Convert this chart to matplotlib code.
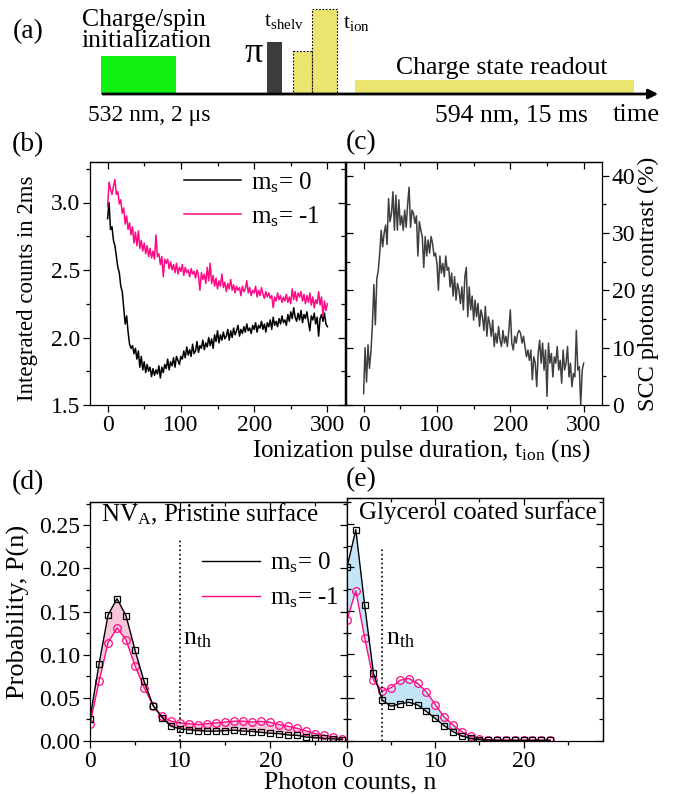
import matplotlib
matplotlib.use("Agg")
import matplotlib.pyplot as plt
import numpy as np
from matplotlib.lines import Line2D
from matplotlib.patches import Rectangle
from matplotlib.ticker import MultipleLocator, FormatStrFormatter

plt.rcParams['font.family'] = ['Liberation Serif', 'DejaVu Serif']
plt.rcParams['mathtext.fontset'] = 'custom'
plt.rcParams['mathtext.rm'] = 'Liberation Serif'
plt.rcParams['mathtext.it'] = 'Liberation Serif:italic'
plt.rcParams['axes.linewidth'] = 0.9

# ---- data ----
t_ion = np.arange(0, 301, 2)  # ionization pulse duration (ns)

counts_ms0 = [
    2.88, 3.00, 2.80, 2.82, 2.72, 2.68, 2.60, 2.52, 2.48, 2.38,
    2.34, 2.22, 2.10, 2.16, 2.04, 1.95, 1.92, 1.94, 1.88, 1.92,
    1.84, 1.90, 1.78, 1.86, 1.76, 1.82, 1.74, 1.80, 1.75, 1.78,
    1.71, 1.77, 1.72, 1.76, 1.73, 1.79, 1.70, 1.78, 1.74, 1.80,
    1.77, 1.84, 1.76, 1.82, 1.79, 1.85, 1.78, 1.86, 1.83, 1.80,
    1.86, 1.84, 1.90, 1.85, 1.93, 1.87, 1.91, 1.86, 1.95, 1.88,
    1.90, 1.97, 1.89, 1.94, 1.92, 1.98, 1.91, 1.96, 1.93, 2.00,
    1.94, 1.99, 1.92, 2.02, 1.97, 2.05, 1.96, 2.02, 1.98, 2.04,
    1.99, 2.01, 2.06, 1.98, 2.05, 2.00, 2.07, 2.02, 2.05, 2.09,
    2.01, 2.06, 2.03, 2.08, 2.04, 2.10, 2.05, 2.07, 2.03, 2.09,
    2.06, 2.11, 2.04, 2.09, 2.07, 2.12, 2.06, 2.10, 2.04, 2.11,
    2.08, 2.13, 2.06, 2.15, 2.09, 2.12, 2.08, 2.14, 2.10, 2.16,
    2.11, 2.13, 2.09, 2.17, 2.12, 2.19, 2.14, 2.22, 2.15, 2.12,
    2.18, 2.13, 2.20, 2.11, 2.17, 2.14, 2.19, 2.12, 2.05, 2.16,
    2.13, 2.18, 2.10, 2.15, 2.01, 2.14, 2.17, 2.12, 2.18, 2.10, 2.08]

counts_ms1 = [
    2.97, 3.15, 3.10, 3.06, 3.12, 3.17, 3.06, 3.08, 2.99, 3.02,
    2.92, 2.96, 2.84, 2.90, 2.80, 2.85, 2.76, 2.82, 2.70, 2.78,
    2.68, 2.79, 2.66, 2.72, 2.64, 2.70, 2.62, 2.68, 2.60, 2.66,
    2.59, 2.64, 2.58, 2.76, 2.60, 2.62, 2.54, 2.60, 2.45, 2.58,
    2.55, 2.58, 2.51, 2.56, 2.50, 2.54, 2.48, 2.55, 2.47, 2.52,
    2.49, 2.54, 2.46, 2.52, 2.48, 2.50, 2.45, 2.51, 2.47, 2.49,
    2.44, 2.50, 2.46, 2.35, 2.48, 2.43, 2.47, 2.40, 2.52, 2.42,
    2.55, 2.40, 2.46, 2.38, 2.44, 2.36, 2.42, 2.38, 2.47, 2.37,
    2.41, 2.34, 2.40, 2.36, 2.43, 2.35, 2.39, 2.33, 2.38, 2.35,
    2.37, 2.31, 2.38, 2.34, 2.36, 2.42, 2.33, 2.37, 2.31, 2.35,
    2.33, 2.38, 2.30, 2.35, 2.31, 2.37, 2.32, 2.29, 2.34, 2.30,
    2.33, 2.29, 2.31, 2.22, 2.30, 2.27, 2.33, 2.28, 2.31, 2.26,
    2.30, 2.27, 2.32, 2.26, 2.30, 2.25, 2.36, 2.28, 2.34, 2.27,
    2.33, 2.30, 2.34, 2.27, 2.32, 2.25, 2.31, 2.26, 2.33, 2.24,
    2.30, 2.22, 2.28, 2.25, 2.34, 2.24, 2.30, 2.16, 2.27, 2.20, 2.25]

scc_contrast = [
    2.0, 10.0, 4.0, 10.5, 6.4, 9.3, 14.0, 21.0, 14.0, 22.0,
    23.5, 26.5, 30.5, 27.6, 30.0, 31.4, 28.0, 36.0, 32.0, 33.4,
    37.2, 30.5, 36.6, 30.5, 35.8, 31.4, 33.0, 30.5, 34.0, 31.0,
    35.0, 38.0, 31.0, 34.0, 33.4, 31.7, 33.0, 26.0, 32.0, 30.5,
    29.4, 24.0, 29.4, 26.0, 28.8, 26.5, 29.4, 28.2, 26.0, 26.5,
    24.7, 20.0, 26.0, 23.0, 24.7, 22.4, 26.0, 23.5, 24.0, 20.6,
    23.0, 19.0, 22.4, 18.3, 21.2, 20.0, 17.7, 20.6, 16.6, 22.4,
    24.0, 15.4, 20.6, 16.6, 19.0, 14.8, 18.3, 15.4, 17.7, 13.7,
    16.6, 15.4, 13.0, 17.2, 12.0, 15.4, 14.2, 12.0, 14.8, 10.2,
    12.5, 10.8, 13.7, 11.3, 10.2, 13.0, 10.8, 12.0, 10.2, 13.0,
    16.6, 10.8, 9.6, 12.0, 10.8, 12.5, 13.0, 12.5, 10.8, 12.0,
    10.2, 8.4, 9.6, 7.8, 9.6, 4.4, 8.4, 7.3, 3.2, 9.0,
    11.3, 7.3, 10.8, 6.1, 9.6, 1.5, 10.8, 7.3, 9.0, 4.9,
    8.4, 7.3, 10.2, 6.1, 7.8, 3.8, 9.6, 6.1, 7.3, 10.2,
    4.9, 7.3, 3.2, 5.5, 4.9, 13.0, 6.1, 6.7, 0.0, 6.1, 7.3]

n_d = np.arange(0, 29)
p_ms0_pristine = [0.026, 0.089, 0.146, 0.165, 0.145, 0.105, 0.069, 0.041, 0.027, 0.017,
                  0.014, 0.013, 0.012, 0.0115, 0.0115, 0.012, 0.0125, 0.0115, 0.011, 0.010,
                  0.009, 0.0085, 0.007, 0.0065, 0.0045, 0.004, 0.003, 0.0025, 0.0015]
p_ms1_pristine = [0.020, 0.069, 0.114, 0.131, 0.117, 0.087, 0.062, 0.041, 0.0285, 0.023,
                  0.021, 0.020, 0.019, 0.020, 0.021, 0.022, 0.023, 0.023, 0.022, 0.0227,
                  0.0216, 0.019, 0.017, 0.0146, 0.0116, 0.0085, 0.0065, 0.0046, 0.0027]

n_e = np.arange(0, 24)
p_ms0_glycerol = [0.200, 0.2435, 0.1565, 0.078, 0.047, 0.040, 0.043, 0.0446, 0.0415, 0.034,
                  0.026, 0.0177, 0.0108, 0.0058, 0.003, 0.0015, 0.001, 0.0008, 0.0008, 0.0008,
                  0.0008, 0.0008, 0.0008, 0.0008]
p_ms1_glycerol = [0.1396, 0.173, 0.119, 0.070, 0.0577, 0.0615, 0.070, 0.072, 0.0665, 0.0565,
                  0.042, 0.0277, 0.0185, 0.0108, 0.0054, 0.0027, 0.0015, 0.001, 0.0008, 0.0008,
                  0.0008, 0.0008, 0.0008, 0.0008]

n_th_pristine = 10
n_th_glycerol = 4

label_ms0 = r'm$_\mathrm{s}$= 0'
label_ms1 = r'm$_\mathrm{s}$= -1'

PINK = '#ff0a84'
GRAY = '#3f3f3f'
FS = 17

W, H = 676, 794
fig = plt.figure(figsize=(W / 100, H / 100), dpi=100)


def frame(px_left, px_top, px_right, px_bottom):
    return [px_left / W, 1 - px_bottom / H, (px_right - px_left) / W, (px_bottom - px_top) / H]


def ticks(ax, xmaj, xmin, ymaj, ymin, left='out', right='in', ylabels='left'):
    ax.xaxis.set_major_locator(MultipleLocator(xmaj))
    ax.xaxis.set_minor_locator(MultipleLocator(xmin))
    ax.yaxis.set_major_locator(MultipleLocator(ymaj))
    ax.yaxis.set_minor_locator(MultipleLocator(ymin))
    ax.tick_params(axis='x', which='both', direction='out', top=False, labelsize=FS, pad=2)
    ax.tick_params(which='major', length=5, width=0.9)
    ax.tick_params(which='minor', length=3, width=0.9)
    top = ax.secondary_xaxis('top')
    top.xaxis.set_major_locator(MultipleLocator(xmaj))
    top.xaxis.set_minor_locator(MultipleLocator(xmin))
    top.tick_params(which='both', direction='in', labeltop=False)
    top.tick_params(which='major', length=5, width=0.9)
    top.tick_params(which='minor', length=3, width=0.9)
    if ylabels == 'left':
        other_side, other_dir = 'right', right
        ax.tick_params(axis='y', which='both', direction=left, labelsize=FS, pad=2)
    else:
        other_side, other_dir = 'left', left
        ax.yaxis.tick_right()
        ax.tick_params(axis='y', which='both', direction=right, labelsize=FS, pad=2)
    sec = ax.secondary_yaxis(other_side)
    sec.yaxis.set_major_locator(MultipleLocator(ymaj))
    sec.yaxis.set_minor_locator(MultipleLocator(ymin))
    sec.tick_params(which='both', direction=other_dir, labelleft=False, labelright=False)
    sec.tick_params(which='major', length=5, width=0.9)
    sec.tick_params(which='minor', length=3, width=0.9)


# ---- (a) pulse sequence ----
axa = fig.add_axes([0, 1 - 130 / H, 1, 130 / H])
axa.set_xlim(0, W)
axa.set_ylim(130, 0)
axa.axis('off')
base = 94
# start, end, top, colour, dotted edge
pulses = [(101, 176, 56, '#11f011', False),
          (267, 282, 42, '#3c3c3c', False),
          (293, 312, 51, '#ebe46e', True),
          (312, 337, 9, '#ebe46e', True),
          (355, 634, 80, '#ebe46e', False)]
for x0, x1, y0, col, dotted in pulses:
    axa.add_patch(Rectangle((x0, y0), x1 - x0, base - y0, facecolor=col,
                            edgecolor='k' if dotted else 'none',
                            linestyle=(0, (1.5, 1.5)), linewidth=0.8))
axa.annotate('', xy=(661, base), xytext=(100, base),
             arrowprops=dict(arrowstyle='-|>', color='k', lw=2, mutation_scale=14))
axa.text(13, 32, '(a)', fontsize=20, va='center')
axa.text(82, 20, 'Charge/spin', fontsize=18.5, va='center')
axa.text(82, 41, 'initialization', fontsize=18.5, va='center')
axa.text(88, 115, '532 nm, 2 μs', fontsize=17, va='center')
axa.text(254, 54, 'π', fontsize=26, va='center', ha='center')
axa.text(264, 26, r't$_\mathrm{shelv}$', fontsize=15.5, va='baseline')
axa.text(343, 28, r't$_\mathrm{ion}$', fontsize=15.5, va='baseline')
axa.text(502, 68, 'Charge state readout', fontsize=18.5, va='center', ha='center')
axa.text(511, 115, '594 nm, 15 ms', fontsize=18.5, va='center', ha='center')
axa.text(636, 115, 'time', fontsize=19, va='center', ha='center')

# ---- (b) integrated counts ----
axb = fig.add_axes(frame(90, 162, 345, 405))
axb.plot(t_ion, counts_ms0, color='k', lw=1.1)
axb.plot(t_ion, counts_ms1, color=PINK, lw=1.1)
axb.set_xlim(-24, 324)
axb.set_ylim(1.5, 3.3)
ticks(axb, 100, 50, 0.5, 0.25)
axb.yaxis.set_major_formatter(FormatStrFormatter('%.1f'))
handles = [Line2D([], [], color='k', lw=1.1), Line2D([], [], color=PINK, lw=1.1)]
axb.legend(handles, [label_ms0, label_ms1], loc='upper right', bbox_to_anchor=(0.99, 1.06),
           frameon=False, fontsize=18, handlelength=2.3, labelspacing=0.38, handletextpad=0.4)

# ---- (c) SCC contrast ----
axc = fig.add_axes(frame(346, 162, 602, 405))
axc.plot(t_ion, scc_contrast, color=GRAY, lw=1.1)
axc.set_xlim(-24, 325)
axc.set_ylim(0, 42.4)
ticks(axc, 100, 50, 10, 5, left='in', right='out', ylabels='right')

fig.text(28 / W, 1 - 288 / H, 'Integrated counts in 2ms', rotation=90, fontsize=16.5,
         ha='center', va='center')
fig.text(648 / W, 1 - 284 / H, 'SCC photons contrast (%)', rotation=90, fontsize=17.5,
         ha='center', va='center')
fig.text(421 / W, 1 - 451 / H, r'Ionization pulse duration, t$_\mathrm{ion}$ (ns)',
         fontsize=18, ha='center', va='center')
fig.text(12 / W, 1 - 145 / H, '(b)', fontsize=20, va='center')
fig.text(346 / W, 1 - 143 / H, '(c)', fontsize=20, va='center')

# ---- (d) pristine surface ----
axd = fig.add_axes(frame(90, 502, 347, 741))
axd.fill_between(n_d, p_ms0_pristine, p_ms1_pristine, color='#f8c6da', lw=0)
axd.plot(n_d, p_ms1_pristine, color=PINK, lw=1, marker='o', ms=5.5, mfc='none', mew=0.9)
axd.plot(n_d, p_ms0_pristine, color='k', lw=1, marker='s', ms=5, mfc='none', mew=0.9)
axd.vlines(n_th_pristine, 0, 0.235, colors='k', linestyles=':', lw=1.2)
axd.text(n_th_pristine + 0.3, 0.118, r'n$_\mathrm{th}$', fontsize=18.5, va='center')
axd.text(1.2, 0.263, r'NV$_\mathrm{A}$, Pristine surface', fontsize=18, va='center')
axd.set_xlim(0, 28.5)
axd.set_ylim(0, 0.277)
ticks(axd, 10, 5, 0.05, 0.025)
axd.yaxis.set_major_formatter(FormatStrFormatter('%.2f'))
handles = [Line2D([], [], color='k', lw=1), Line2D([], [], color=PINK, lw=1)]
axd.legend(handles, [label_ms0, label_ms1], loc='upper right', bbox_to_anchor=(1.055, 0.89),
           frameon=False, fontsize=18, handlelength=2.3, labelspacing=0.4, handletextpad=0.4)

# ---- (e) glycerol coated surface ----
axe = fig.add_axes(frame(347, 498, 603, 741))
axe.fill_between(n_e, p_ms0_glycerol, p_ms1_glycerol, color='#c4e5f8', lw=0)
axe.plot(n_e, p_ms1_glycerol, color=PINK, lw=1, marker='o', ms=5.5, mfc='none', mew=0.9)
axe.plot(n_e, p_ms0_glycerol, color='k', lw=1, marker='s', ms=5, mfc='none', mew=0.9)
axe.vlines(n_th_glycerol, 0, 0.223, colors='k', linestyles=':', lw=1.2)
axe.text(n_th_glycerol + 0.4, 0.118, r'n$_\mathrm{th}$', fontsize=18.5, va='center')
axe.text(1.4, 0.263, 'Glycerol coated surface', fontsize=18, va='center')
axe.set_xlim(0, 29)
axe.set_ylim(0, 0.28)
ticks(axe, 10, 5, 0.05, 0.025, left='in', right='in')
axe.tick_params(axis='y', labelleft=False)

fig.text(18 / W, 1 - 612 / H, 'Probability, P(n)', rotation=90, fontsize=19,
         ha='center', va='center')
fig.text(350 / W, 1 - 782 / H, 'Photon counts, n', fontsize=18.5, ha='center', va='center')
fig.text(12 / W, 1 - 483 / H, '(d)', fontsize=20, va='center')
fig.text(346 / W, 1 - 480 / H, '(e)', fontsize=20, va='center')

fig.savefig('out.png', dpi=100)
